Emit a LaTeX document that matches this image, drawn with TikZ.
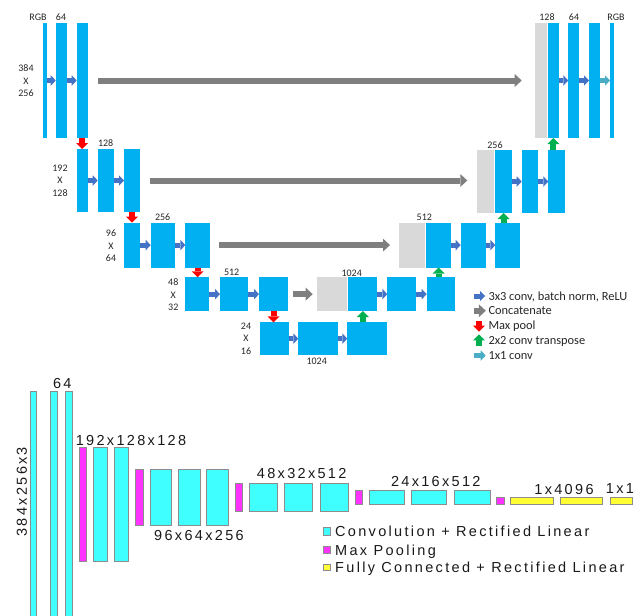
\documentclass[tikz,border=0pt]{standalone}
\usepackage{fontspec}
\setmainfont{Carlito}
\newfontfamily\vggfont[LetterSpace=16]{Liberation Sans}
\usepackage{tikz}
\usetikzlibrary{arrows.meta,fit}

\definecolor{mapblue}{HTML}{00B0F0}
\definecolor{mapgray}{HTML}{D9D9D9}
\definecolor{convblue}{HTML}{4472C4}
\definecolor{catgray}{HTML}{7F7F7F}
\definecolor{poolred}{HTML}{FF0000}
\definecolor{upgreen}{HTML}{00B050}
\definecolor{outteal}{HTML}{4BACC6}
\definecolor{vcyan}{HTML}{3FFFFF}
\definecolor{vmag}{HTML}{FF33FF}
\definecolor{vyel}{HTML}{FFFF33}

\tikzset{
  fmap/.style={fill=mapblue, inner sep=0pt, outer sep=0pt},
  cmap/.style={fill=mapgray, inner sep=0pt, outer sep=0pt},
  convarrow/.style={draw=convblue, line width=5pt, -{Triangle[length=5pt,width=10.5pt,line width=0pt]}},
  outarrow/.style={draw=outteal, line width=5pt, -{Triangle[length=5pt,width=10.5pt,line width=0pt]}},
  catarrow/.style={draw=catgray, line width=6pt, -{Triangle[length=7pt,width=13pt,line width=0pt]}},
  poolarrow/.style={draw=poolred, line width=6pt, -{Triangle[length=6pt,width=12pt,line width=0pt]}},
  uparrow/.style={draw=upgreen, line width=6pt, -{Triangle[length=6pt,width=12pt,line width=0pt]}},
  lbl/.style={inner sep=0pt, text=black!85, font=\fontsize{10}{12.5}\selectfont},
  keytxt/.style={inner sep=0pt, text=black!85, text depth=0pt, font=\fontsize{12.4}{14}\selectfont},
  vconv/.style={fill=vcyan, draw=black!45, line width=0.6pt, inner sep=0pt, outer sep=0pt},
  vpool/.style={fill=vmag, draw=black!45, line width=0.6pt, inner sep=0pt, outer sep=0pt},
  vfc/.style={fill=vyel, draw=black!45, line width=0.6pt, inner sep=0pt, outer sep=0pt},
  vtxt/.style={inner sep=0pt, text=black!90, text depth=0pt, font=\vggfont\fontsize{14.5}{16}\selectfont}
}

\begin{document}
\begin{tikzpicture}[x=1pt, y=-1pt]
  \useasboundingbox (0,0) rectangle (643,616);

  % level 1
  \node[fmap, fit={(43,23) (46.5,138)}] (e1a) {};
  \node[fmap, fit={(55.7,23) (67,138)}] (e1b) {};
  \node[fmap, fit={(76.7,23) (87.7,138)}] (e1c) {};
  \node[cmap, fit={(535,23) (546.7,138)}] (g1) {};
  \node[fmap, fit={(548,23) (558.7,138)}] (d1a) {};
  \node[fmap, fit={(568.3,23) (579.3,138)}] (d1b) {};
  \node[fmap, fit={(589,23) (600,138)}] (d1c) {};
  \node[fmap, fit={(610,23) (614,138)}] (d1d) {};
  \node[lbl] at (38,17) {RGB};
  \node[lbl] at (61,17) {64};
  \node[lbl, align=center] at (26,81) {384\\X\\256};
  \node[lbl] at (547,17) {128};
  \node[lbl] at (574,17) {64};
  \node[lbl] at (616,17) {RGB};

  % level 2
  \node[fmap, fit={(76.7,149) (87.7,212)}] (e2a) {};
  \node[fmap, fit={(97.7,149) (114,212)}] (e2b) {};
  \node[fmap, fit={(124,149) (140,212)}] (e2c) {};
  \node[cmap, fit={(476.7,150) (494,213)}] (g2) {};
  \node[fmap, fit={(495.3,150) (511.7,213)}] (d2a) {};
  \node[fmap, fit={(521.7,150) (538.3,213)}] (d2b) {};
  \node[fmap, fit={(548.3,150) (565,213)}] (d2c) {};
  \node[lbl] at (105.7,143) {128};
  \node[lbl, align=center] at (60,180.7) {192\\X\\128};
  \node[lbl] at (495,145) {256};

  % level 3
  \node[fmap, fit={(124,222.7) (140,267.5)}] (e3a) {};
  \node[fmap, fit={(150.7,222.7) (175,267.5)}] (e3b) {};
  \node[fmap, fit={(185.3,222.7) (210,267.5)}] (e3c) {};
  \node[cmap, fit={(399.3,222.7) (425,267.5)}] (g3) {};
  \node[fmap, fit={(426,222.7) (451,267.5)}] (d3a) {};
  \node[fmap, fit={(460.7,222.7) (485.7,267.5)}] (d3b) {};
  \node[fmap, fit={(495.3,222.7) (520,267.5)}] (d3c) {};
  \node[lbl] at (162.7,217.3) {256};
  \node[lbl, align=center] at (111,245.7) {96\\X\\64};
  \node[lbl] at (424.3,217.7) {512};

  % level 4
  \node[fmap, fit={(185,277.3) (209.3,311)}] (e4a) {};
  \node[fmap, fit={(220,277.3) (248.3,311)}] (e4b) {};
  \node[fmap, fit={(259,277.3) (288,311)}] (e4c) {};
  \node[cmap, fit={(317.3,277.3) (346.7,311)}] (g4) {};
  \node[fmap, fit={(348.3,277.3) (377.3,311)}] (d4a) {};
  \node[fmap, fit={(387.3,277.3) (416,311)}] (d4b) {};
  \node[fmap, fit={(426.7,277.3) (455,311)}] (d4c) {};
  \node[lbl] at (231.7,272.7) {512};
  \node[lbl, align=center] at (173.3,295) {48\\X\\32};
  \node[lbl] at (351.7,273.3) {1024};

  % level 5
  \node[fmap, fit={(260,322.3) (289,355)}] (e5a) {};
  \node[fmap, fit={(298.3,322.3) (338.3,355)}] (e5b) {};
  \node[fmap, fit={(347.3,322.3) (387.3,355)}] (e5c) {};
  \node[lbl, align=center] at (246,338.3) {24\\X\\16};
  \node[lbl] at (316.7,361.7) {1024};

  % conv arrows
  \foreach \a/\b in {e1a/e1b, e1b/e1c, d1a/d1b, d1b/d1c, e2a/e2b, e2b/e2c, d2a/d2b, d2b/d2c,
                     e3a/e3b, e3b/e3c, d3a/d3b, d3b/d3c, e4a/e4b, e4b/e4c, d4a/d4b, d4b/d4c,
                     e5a/e5b, e5b/e5c}
    \draw[convarrow] (\a.east) -- (\b.west);
  \draw[outarrow] (d1c.east) -- (d1d.west);

  % skip connections
  \draw[catarrow, shorten <=10.3pt, shorten >=13.3pt] (e1c.east) -- (g1.west |- e1c.east);
  \draw[catarrow, shorten <=10pt, shorten >=9.4pt] (e2c.east) -- (g2.west |- e2c.east);
  \draw[catarrow, shorten <=9pt, shorten >=9.3pt] (e3c.east) -- (g3.west |- e3c.east);
  \draw[catarrow, shorten <=5.3pt, shorten >=4.6pt] (e4c.east) -- (g4.west |- e4c.east);

  % max pool
  \draw[poolarrow] (e1c.south) -- (e2a.north);
  \draw[poolarrow] (e2c.south) -- (e3a.north);
  \draw[poolarrow] (e3c.south) -- (e3c.south |- e4a.north);
  \draw[poolarrow] (e4c.south) -- (e4c.south |- e5a.north);

  % up conv
  \draw[uparrow] (d1a |- d2c.north) -- (d1a.south);
  \draw[uparrow] (d2a |- d3c.north) -- (d2a.south);
  \draw[uparrow] (d3a |- d4c.north) -- (d3a.south);
  \draw[uparrow] (d4a |- e5c.north) -- (d4a.south);

  % legend
  \node[keytxt, anchor=west] (k1) at (488.3,296) {3x3 conv, batch norm, ReLU};
  \node[keytxt, anchor=west] (k2) at (488.3,310.7) {Concatenate};
  \node[keytxt, anchor=west] (k3) at (488.3,325) {Max pool};
  \node[keytxt, anchor=west] (k4) at (488.3,340.7) {2x2 conv transpose};
  \node[keytxt, anchor=west] (k5) at (488.3,355.5) {1x1 conv};
  \draw[convarrow] ([xshift=-14pt]k1.west) -- ([xshift=-3.3pt]k1.west);
  \draw[catarrow] ([xshift=-14pt]k2.west) -- ([xshift=-2.5pt]k2.west);
  \draw[poolarrow] ([xshift=-9.3pt,yshift=4pt]k3.west) -- ([xshift=-9.3pt,yshift=-6.7pt]k3.west);
  \draw[uparrow] ([xshift=-9.3pt,yshift=-5pt]k4.west) -- ([xshift=-9.3pt,yshift=6.4pt]k4.west);
  \draw[outarrow] ([xshift=-14pt]k5.west) -- ([xshift=-2.6pt]k5.west);

  % VGG
  \node[vconv, fit={(30,391) (36.7,622)}] (v1) {};
  \node[vconv, fit={(50.7,391) (57.7,622)}] (v2) {};
  \node[vconv, fit={(65,391) (72,622)}] (v3) {};
  \node[vpool, fit={(79,447.7) (86.7,561)}] (p1) {};
  \node[vconv, fit={(93.3,447.7) (107.7,561)}] (v4) {};
  \node[vconv, fit={(114.3,447.7) (128.7,561)}] (v5) {};
  \node[vpool, fit={(135.7,469) (143.3,525.7)}] (p2) {};
  \node[vconv, fit={(150,469) (171.7,525.7)}] (v6) {};
  \node[vconv, fit={(178.3,469) (200,525.7)}] (v7) {};
  \node[vconv, fit={(206.7,469) (228.3,525.7)}] (v8) {};
  \node[vpool, fit={(235,483.3) (242.3,511.7)}] (p3) {};
  \node[vconv, fit={(249,483.3) (277.7,511.7)}] (v9) {};
  \node[vconv, fit={(284.3,483.3) (312.7,511.7)}] (v10) {};
  \node[vconv, fit={(320,483.3) (348.3,511.7)}] (v11) {};
  \node[vpool, fit={(355,490.7) (362.3,504.3)}] (p4) {};
  \node[vconv, fit={(369,490) (404.3,504.3)}] (v12) {};
  \node[vconv, fit={(411,490) (446.7,504.3)}] (v13) {};
  \node[vconv, fit={(454,490) (490,504.3)}] (v14) {};
  \node[vpool, fit={(496.7,497.3) (504,504.3)}] (p5) {};
  \node[vfc, fit={(510.7,497.3) (553.3,504.3)}] (f1) {};
  \node[vfc, fit={(560,497.3) (602.7,504.3)}] (f2) {};
  \node[vfc, fit={(610.7,497.3) (632,504.3)}] (f3) {};
  \node[vtxt] at (62.3,383.3) {64};
  \node[vtxt, rotate=90] at (21.7,491.7) {384x256x3};
  \node[vtxt] at (131,440) {192x128x128};
  \node[vtxt] at (199,535.7) {96x64x256};
  \node[vtxt] at (301.7,473.3) {48x32x512};
  \node[vtxt] at (435.8,481.7) {24x16x512};
  \node[vtxt] at (564,489) {1x4096};
  \node[vtxt] at (620,489) {1x1};

  % VGG legend
  \node[vconv, fit={(323.3,527.7) (330.7,535)}] (kc) {};
  \node[vpool, fit={(323.3,546.7) (330.7,553.3)}] (kp) {};
  \node[vfc, fit={(323.3,564) (330.7,570.7)}] (kf) {};
  \node[vtxt, anchor=west] at ([xshift=4.3pt]kc.east) {Convolution + Rectified Linear};
  \node[vtxt, anchor=west] at ([xshift=4.3pt]kp.east) {Max Pooling};
  \node[vtxt, anchor=west] at ([xshift=4.3pt]kf.east) {Fully Connected + Rectified Linear};
\end{tikzpicture}
\end{document}
